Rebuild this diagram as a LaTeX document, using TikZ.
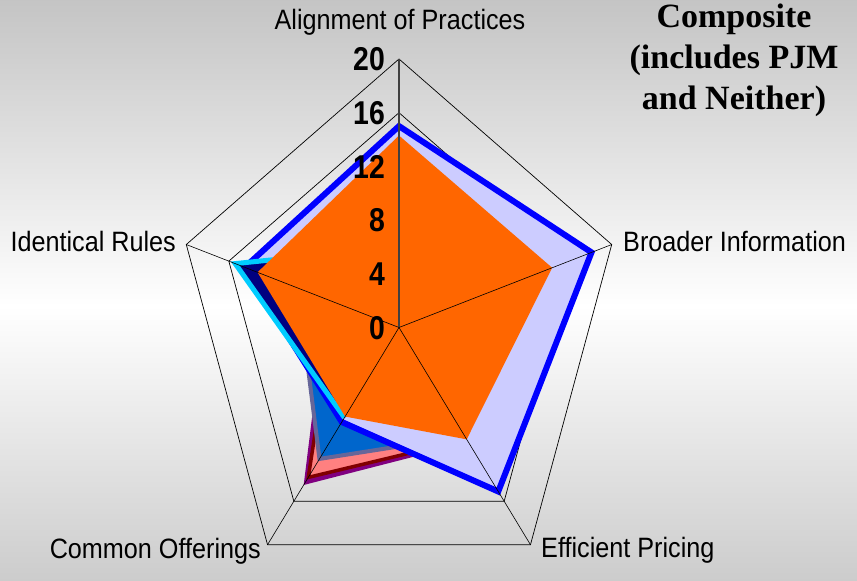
\documentclass[tikz,border=0pt]{standalone}
\usepackage{fontspec}
\setmainfont{Liberation Sans}
\newfontfamily\titlefont{Liberation Serif}
\definecolor{lav}{HTML}{CCCCFF}
\definecolor{bline}{HTML}{0000FF}
\definecolor{orng}{HTML}{FF6600}
\definecolor{navyc}{HTML}{000080}
\definecolor{cyanc}{HTML}{00CCFF}
\definecolor{purp}{HTML}{800080}
\definecolor{dred}{HTML}{800000}
\definecolor{pinkc}{HTML}{FF8080}
\definecolor{steel}{HTML}{666699}
\definecolor{mblue}{HTML}{0066CC}
\tikzset{
  gridline/.style={black, line width=0.7pt},
  spoke/.style={black, line width=0.6pt},
  valaxis/.style={black!75, line width=1.1pt},
  axlabel/.style={inner sep=0pt, font=\fontsize{28}{30}\selectfont},
  ticklabel/.style={inner sep=0pt, anchor=base east, font=\fontsize{33}{36}\selectfont\bfseries},
  titleline/.style={inner sep=0pt, anchor=base, font=\fontsize{34}{38}\selectfont\titlefont\bfseries},
  series/.style={line join=miter, miter limit=10}
}
\newcommand{\sx}[1]{\scalebox{0.9}[1]{#1}}
\newcommand{\tx}[1]{\scalebox{0.86}[1]{#1}}
\begin{document}
\begin{tikzpicture}[x=1pt,y=1pt]
\useasboundingbox (0,0) rectangle (857,581);
\shade[top color=black!23, bottom color=white] (0,274.5) rectangle (857,581);
\shade[top color=white, bottom color=black!20] (0,0) rectangle (857,275);
\begin{scope}[shift={(399,253.5)}, xscale=0.833, scale=13.425]
  % grid rings
  \draw[gridline, line join=miter] (90:20) -- (18:20) -- (-54:20) -- (-126:20) -- (162:20) -- cycle;
  \draw[gridline, line join=miter] (90:16) -- (18:16) -- (-54:16) -- (-126:16) -- (162:16) -- cycle;
  % series
  \fill[purp, series] (90:3) -- (18:3) -- (-54:10.6) -- (-126:14.5) -- (162:6.8) -- cycle;
  \filldraw[series, fill=pinkc, draw=dred, line width=3.5pt] (90:3) -- (18:3) -- (-54:10.3) -- (-126:13.8) -- (162:6.0) -- cycle;
  \filldraw[series, fill=mblue, draw=steel, line width=4pt] (90:3) -- (18:3) -- (-54:10.0) -- (-126:12.1) -- (162:9.5) -- cycle;
  \filldraw[series, fill=lav, draw=bline, line width=6pt] (90:15.0) -- (18:18.1) -- (-54:15.1) -- (-126:8.7) -- (162:14.5) -- cycle;
  \fill[navyc, series] (90:6) -- (18:5) -- (-54:5) -- (-126:8.3) -- (162:15.4) -- cycle;
  \draw[cyanc, series, line width=5pt] (90:6) -- (162:15.4) -- (-126:8.3);
  \fill[orng, series] (90:14.3) -- (18:14.4) -- (-54:10.3) -- (-126:8.2) -- (162:13.3) -- cycle;
  % spokes
  \draw[spoke] (0,0) -- (18:20);
  \draw[spoke] (0,0) -- (-54:20);
  \draw[spoke] (0,0) -- (-126:20);
  \draw[spoke] (0,0) -- (162:20);
  \draw[valaxis] (0,0) -- (90:20);
\end{scope}
% value axis labels
\node[ticklabel] (t0)  at (385,241.8) {\tx{0}};
\node[ticklabel] (t4)  at (385,295.5) {\tx{4}};
\node[ticklabel] (t8)  at (385,349.2) {\tx{8}};
\node[ticklabel] (t12) at (385,402.9) {\tx{12}};
\node[ticklabel] (t16) at (385,456.6) {\tx{16}};
\node[ticklabel] (t20) at (385,510.3) {\tx{20}};
% category labels
\node[axlabel, anchor=base] (align) at (400,551.7) {\sx{Alignment of Practices}};
\node[axlabel, anchor=base west] (broad) at (623,329) {\sx{Broader Information}};
\node[axlabel, anchor=base east] (ident) at (176,329.3) {\sx{Identical Rules}};
\node[axlabel, anchor=base west] (eff) at (541,23) {\sx{Efficient Pricing}};
\node[axlabel, anchor=base east] (common) at (261,22.7) {\sx{Common Offerings}};
% title
\node[titleline] (title1) at (734,553.7) {Composite};
\node[titleline] (title2) at (734,512.7) {(includes PJM};
\node[titleline] (title3) at (734,471) {and Neither)};
\end{tikzpicture}
\end{document}
